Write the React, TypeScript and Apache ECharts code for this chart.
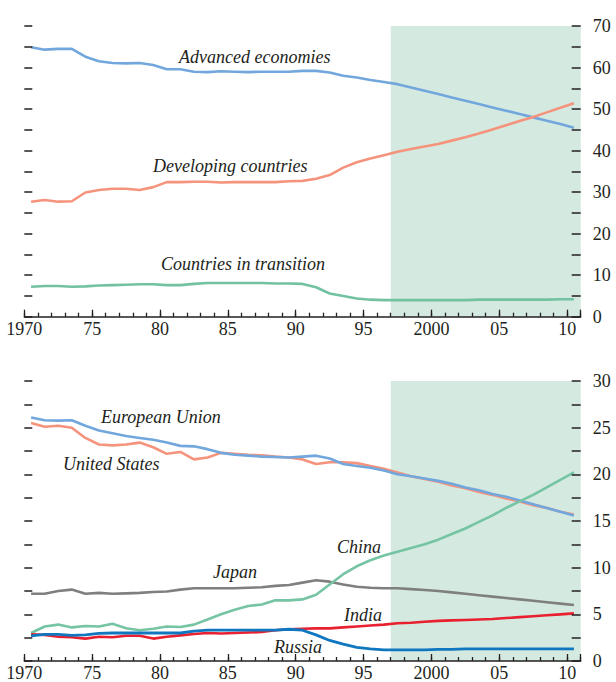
import React, { useEffect, useRef } from "react";
import * as echarts from "echarts";

const years = Array.from({ length: 41 }, (_, i) => 1970 + i);

// Top panel: share of world GDP (%)
const advanced = [
  64.9, 64.3, 64.5, 64.5, 62.6, 61.5, 61.1, 61.0, 61.1, 60.6,
  59.6, 59.6, 59.0, 58.9, 59.1, 59.0, 58.9, 59.0, 59.0, 59.0,
  59.2, 59.2, 58.8, 58.0, 57.6, 57.0, 56.5, 56.0, 55.2, 54.4,
  53.6, 52.8, 52.0, 51.2, 50.4, 49.6, 48.8, 48.0, 47.2, 46.4, 45.5,
];
const developing = [
  27.7, 28.1, 27.7, 27.8, 29.9, 30.5, 30.8, 30.8, 30.5, 31.2,
  32.4, 32.4, 32.5, 32.5, 32.3, 32.4, 32.4, 32.4, 32.4, 32.6,
  32.7, 33.2, 34.1, 35.9, 37.2, 38.1, 38.9, 39.7, 40.4, 41.0,
  41.6, 42.4, 43.2, 44.1, 45.1, 46.1, 47.1, 48.1, 49.2, 50.3, 51.4,
];
const transition = [
  7.2, 7.4, 7.4, 7.2, 7.3, 7.5, 7.6, 7.7, 7.8, 7.8,
  7.6, 7.6, 7.9, 8.1, 8.1, 8.1, 8.1, 8.1, 8.0, 8.0,
  7.9, 7.1, 5.6, 5.0, 4.4, 4.1, 4.0, 4.0, 4.0, 4.0,
  4.0, 4.0, 4.0, 4.1, 4.1, 4.1, 4.1, 4.1, 4.1, 4.2, 4.2,
];

// Bottom panel
const eu = [
  26.1, 25.8, 25.75, 25.8, 25.2, 24.7, 24.4, 24.1, 23.9, 23.7,
  23.4, 23.05, 23.0, 22.7, 22.3, 22.1, 22.0, 21.9, 21.85, 21.8,
  21.9, 22.0, 21.7, 21.1, 20.9, 20.7, 20.4, 20.0, 19.8, 19.55,
  19.3, 19.0, 18.6, 18.3, 17.9, 17.6, 17.2, 16.8, 16.4, 16.0, 15.6,
];
const us = [
  25.5, 25.1, 25.2, 25.0, 23.9, 23.2, 23.1, 23.2, 23.4, 22.9,
  22.2, 22.4, 21.6, 21.8, 22.3, 22.2, 22.1, 22.05, 21.9, 21.8,
  21.6, 21.1, 21.3, 21.3, 21.2, 20.9, 20.6, 20.2, 19.8, 19.5,
  19.2, 18.8, 18.5, 18.1, 17.8, 17.4, 17.1, 16.7, 16.4, 16.0, 15.7,
];
const china = [
  3.0, 3.7, 3.9, 3.6, 3.75, 3.7, 4.0, 3.5, 3.3, 3.45,
  3.7, 3.65, 3.9, 4.45, 5.0, 5.5, 5.9, 6.05, 6.5, 6.5,
  6.6, 7.1, 8.2, 9.3, 10.15, 10.8, 11.3, 11.7, 12.1, 12.5,
  13.0, 13.6, 14.2, 14.9, 15.6, 16.4, 17.1, 17.8, 18.6, 19.4, 20.2,
];
const japan = [
  7.2, 7.2, 7.5, 7.65, 7.2, 7.3, 7.2, 7.25, 7.3, 7.4,
  7.45, 7.65, 7.8, 7.8, 7.8, 7.8, 7.85, 7.9, 8.05, 8.15,
  8.4, 8.65, 8.5, 8.2, 7.95, 7.85, 7.8, 7.8, 7.7, 7.6,
  7.5, 7.35, 7.2, 7.05, 6.9, 6.75, 6.6, 6.45, 6.3, 6.15, 6.0,
];
const india = [
  2.85, 2.8, 2.6, 2.55, 2.4, 2.6, 2.55, 2.7, 2.7, 2.4,
  2.6, 2.75, 2.9, 3.0, 2.95, 3.0, 3.05, 3.1, 3.3, 3.4,
  3.45, 3.5, 3.5, 3.6, 3.7, 3.8, 3.9, 4.05, 4.1, 4.2,
  4.3, 4.35, 4.4, 4.45, 4.5, 4.6, 4.7, 4.8, 4.9, 5.0, 5.1,
];
const russia = [
  2.7, 2.85, 2.85, 2.75, 2.8, 2.95, 3.0, 3.0, 3.0, 3.0,
  3.0, 3.0, 3.2, 3.3, 3.3, 3.3, 3.3, 3.3, 3.3, 3.4,
  3.3, 2.8, 2.2, 1.8, 1.45, 1.3, 1.2, 1.2, 1.2, 1.2,
  1.25, 1.25, 1.3, 1.3, 1.3, 1.3, 1.3, 1.3, 1.3, 1.3, 1.3,
];

const projectionStart = 1997;
const xMin = 1970;
const xMax = 2011;
const majorYears = [1970, 1975, 1980, 1985, 1990, 1995, 2000, 2005, 2010];

const FONT = "'Liberation Serif', 'DejaVu Serif', serif";
const INK = "#231f20";
const SHADE = "#d4e9df";

function yearLabel(v: number) {
  if (!majorYears.includes(v)) return "";
  if (v === 1970 || v === 2000) return String(v);
  return String(v % 100).padStart(2, "0");
}

function toPts(arr: number[]) {
  return years.map((y, i) => [y + 0.5, arr[i]]);
}

export default function App() {
  const ref = useRef<HTMLDivElement>(null);
  useEffect(() => {
    if (!ref.current) return;
    const chart = echarts.init(ref.current, undefined, { renderer: "svg" });

    const grids = [
      { left: 24.3, right: 35.3, top: 26, height: 290.7 },
      { left: 24.3, right: 35.3, top: 381, height: 280.7 },
    ];

    const xAxes: any[] = [];
    const yAxes: any[] = [];
    grids.forEach((_, g) => {
      xAxes.push({
        type: "value",
        gridIndex: g,
        position: "bottom",
        offset: 0,
        min: xMin,
        max: xMax,
        interval: 1,
        z: 5,
        axisLine: { show: true, onZero: false, lineStyle: { color: INK, width: 1.5 } },
        axisTick: { show: true, inside: true, length: 4, lineStyle: { color: INK, width: 1.3 } },
        axisLabel: { show: false },
        splitLine: { show: false },
      });
      xAxes.push({
        type: "value",
        gridIndex: g,
        position: "bottom",
        offset: 0,
        min: xMin,
        max: xMax,
        interval: 5,
        z: 5,
        axisLine: { show: false, onZero: false },
        axisTick: { show: true, inside: true, length: 7, lineStyle: { color: INK, width: 1.3 } },
        axisLabel: {
          show: true,
          margin: 3,
          color: INK,
          fontFamily: FONT,
          fontSize: 18,
          formatter: (v: number) => yearLabel(v),
        },
        splitLine: { show: false },
      });
      const ymax = g === 0 ? 70 : 30;
      const yint = g === 0 ? 5 : 2.5;
      const lab = g === 0 ? 10 : 5;
      yAxes.push({
        type: "value",
        gridIndex: g,
        position: "right",
        offset: 0,
        min: 0,
        max: ymax,
        interval: yint,
        z: 5,
        axisLine: { show: false, onZero: false },
        axisTick: { show: true, inside: true, length: 9, lineStyle: { color: INK, width: 1.5 } },
        axisLabel: {
          show: true,
          inside: false,
          margin: 12,
          color: INK,
          fontFamily: FONT,
          fontSize: 18,
          formatter: (v: number) => (v % lab === 0 ? String(v) : ""),
        },
        splitLine: { show: false },
      });
      yAxes.push({
        type: "value",
        gridIndex: g,
        position: "left",
        offset: 0,
        min: 0,
        max: ymax,
        interval: yint,
        z: 5,
        axisLine: { show: false, onZero: false },
        axisTick: { show: true, inside: true, length: 8, lineStyle: { color: INK, width: 1.5 } },
        axisLabel: { show: false },
        splitLine: { show: false },
      });
    });

    const line = (name: string, arr: number[], color: string, g: number, width = 2.6) => ({
      name,
      type: "line",
      xAxisIndex: g * 2,
      yAxisIndex: g * 2,
      data: toPts(arr),
      showSymbol: false,
      symbol: "none",
      smooth: false,
      z: 3,
      lineStyle: { color, width },
      silent: true,
    });

    const shade = (g: number) => ({
      type: "line",
      xAxisIndex: g * 2,
      yAxisIndex: g * 2,
      data: [[projectionStart, 0]],
      symbol: "none",
      lineStyle: { opacity: 0 },
      z: 1,
      silent: true,
      markArea: {
        silent: true,
        itemStyle: { color: SHADE },
        data: [[{ xAxis: projectionStart }, { xAxis: xMax }]],
      },
    });

    const textStyle = (s: string, x: number, y: number) => ({
      type: "text",
      x,
      y,
      z: 10,
      style: {
        text: s,
        fill: INK,
        font: `italic 18px ${FONT}`,
        verticalAlign: "middle",
        align: "left",
      },
    });

    chart.setOption({
      animation: false,
      grid: grids,
      xAxis: xAxes,
      yAxis: yAxes,
      series: [
        shade(0),
        line("Advanced economies", advanced, "#72a7dd", 0),
        line("Developing countries", developing, "#f5937c", 0),
        line("Countries in transition", transition, "#72c2a1", 0),
        shade(1),
        line("United States", us, "#f5937c", 1),
        line("European Union", eu, "#72a7dd", 1),
        line("Japan", japan, "#7f7f7f", 1),
        line("China", china, "#75c4a3", 1),
        line("India", india, "#e8202f", 1),
        line("Russia", russia, "#0f76c0", 1, 2.8),
      ],
      graphic: [
        textStyle("Advanced economies", 179, 57),
        textStyle("Developing countries", 153, 166),
        textStyle("Countries in transition", 161, 264),
        textStyle("European Union", 101, 417),
        textStyle("United States", 63, 464),
        textStyle("Japan", 213, 572),
        textStyle("China", 337, 547),
        textStyle("India", 344, 615),
        textStyle("Russia", 274, 647),
      ],
    });
    return () => chart.dispose();
  }, []);
  return (
    <div
      ref={ref}
      style={{ position: "fixed", left: 0, top: 0, width: 616, height: 682, background: "#fff" }}
    />
  );
}
